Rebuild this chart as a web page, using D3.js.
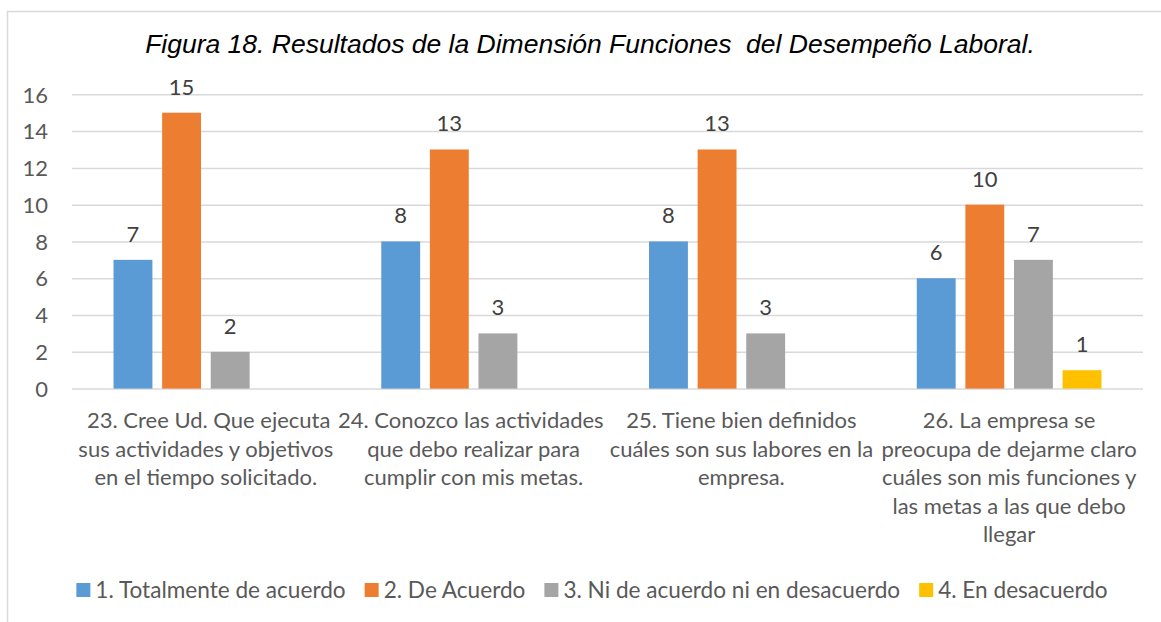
<!DOCTYPE html>
<html>
<head>
<meta charset="utf-8">
<script src="https://cdn.jsdelivr.net/npm/d3@7"></script>
<style>
  html, body { margin: 0; padding: 0; background: #fff; }
  svg text { white-space: pre; }
</style>
</head>
<body>
<svg id="chart" width="1161" height="622"></svg>
<script>
// ---- data ----
const title = "Figura 18. Resultados de la Dimensión Funciones  del Desempeño Laboral.";
const categories = [
  " 23. Cree Ud. Que ejecuta sus actividades y objetivos en el tiempo solicitado.",
  "24. Conozco las actividades que debo realizar para cumplir con mis metas.",
  "25. Tiene bien definidos cuáles son sus labores en la empresa.",
  "26. La empresa se preocupa de dejarme claro cuáles son mis funciones y las metas a las que debo llegar"
];
const categoryLines = [
  [" 23. Cree Ud. Que ejecuta", "sus actividades y objetivos", "en el tiempo solicitado."],
  ["24. Conozco las actividades ", "que debo realizar para", "cumplir con mis metas."],
  ["25. Tiene bien definidos", "cuáles son sus labores en la", "empresa."],
  ["26. La empresa se", "preocupa de dejarme claro", "cuáles son mis funciones y", "las metas a las que debo", "llegar"]
];
const seriesNames = ["1. Totalmente de acuerdo", "2. De Acuerdo", "3. Ni de acuerdo ni en desacuerdo", "4. En desacuerdo"];
const totalmenteDeAcuerdo = [7, 8, 8, 6];
const deAcuerdo = [15, 13, 13, 10];
const niDeAcuerdo = [2, 3, 3, 7];
const enDesacuerdo = [null, null, null, 1];
const seriesValues = [totalmenteDeAcuerdo, deAcuerdo, niDeAcuerdo, enDesacuerdo];
const yTicks = [0, 2, 4, 6, 8, 10, 12, 14, 16];
const colors = ["#5B9BD5", "#ED7D31", "#A5A5A5", "#FFC000"];

// ---- layout ----
const svg = d3.select("#chart");
const W = 1161, H = 622;
const plot = { left: 72, right: 1143, top: 94.3, bottom: 388.6 };
const labelFont = "Lato, 'Open Sans', sans-serif";
const labelSize = 22;
const legendSize = 22.6;
const textColor = "#595959";

// chart frame
svg.append("rect").attr("x", 7.5).attr("y", 11.5).attr("width", W + 20).attr("height", H + 20)
  .attr("fill", "#fff").attr("stroke", "#D9D9D9").attr("stroke-width", 1.5);

const x0 = d3.scaleBand().domain(d3.range(categories.length)).range([plot.left, plot.right]).paddingInner(0).paddingOuter(0);
const groupFrac = 184.7 / 267.75;
const x1 = d3.scaleBand().domain(d3.range(seriesNames.length))
  .range([0, x0.bandwidth() * groupFrac]).paddingInner(0.2).paddingOuter(0);
const groupOffset = (x0.bandwidth() - x0.bandwidth() * groupFrac) / 2;
const y = d3.scaleLinear().domain([0, 16]).range([plot.bottom, plot.top]);

// gridlines
const yAxis = d3.axisLeft(y).tickValues(yTicks).tickSize(-(plot.right - plot.left)).tickPadding(24).tickFormat(d3.format("d"));
const gy = svg.append("g").attr("transform", `translate(${plot.left},0)`).call(yAxis);
gy.select(".domain").remove();
gy.selectAll(".tick line").attr("stroke", "#D9D9D9").attr("stroke-width", 1.5);
gy.selectAll(".tick text").attr("font-family", labelFont).attr("font-size", labelSize)
  .attr("fill", textColor).attr("text-anchor", "end").attr("x", -24).attr("dy", "0.35em");

// bars
const groups = svg.append("g").selectAll("g").data(categories).join("g")
  .attr("transform", (d, i) => `translate(${x0(i) + groupOffset},0)`);
groups.each(function (c, ci) {
  const g = d3.select(this);
  seriesValues.forEach((vals, si) => {
    const v = vals[ci];
    if (v === null || v === undefined) return;
    g.append("rect")
      .attr("x", x1(si)).attr("width", x1.bandwidth())
      .attr("y", y(v)).attr("height", y(0) - y(v))
      .attr("fill", colors[si]);
    g.append("text")
      .attr("x", x1(si) + x1.bandwidth() / 2).attr("y", y(v) - 18)
      .attr("text-anchor", "middle").attr("font-family", labelFont).attr("font-size", labelSize)
      .attr("fill", "#404040").text(v);
  });
});

// category labels
const catG = svg.append("g");
categoryLines.forEach((lines, ci) => {
  const cx = x0(ci) + x0.bandwidth() / 2;
  lines.forEach((ln, li) => {
    catG.append("text").attr("x", cx).attr("y", 428 + li * 28.5)
      .attr("text-anchor", "middle").attr("font-family", labelFont).attr("font-size", labelSize)
      .attr("fill", textColor).text(ln);
  });
});

// title
svg.append("text").attr("x", 590).attr("y", 53).attr("text-anchor", "middle")
  .attr("font-family", "'Liberation Sans', Arial, sans-serif").attr("font-style", "italic")
  .attr("font-size", 26.5).attr("fill", "#000").text(title);

// legend
const sq = 14, gapSqText = 5, gapItems = 19;
const leg = svg.append("g");
const items = seriesNames.map((name, i) => {
  const g = leg.append("g");
  g.append("rect").attr("x", 0).attr("y", -sq / 2).attr("width", sq).attr("height", sq).attr("fill", colors[i]);
  const t = g.append("text").attr("x", sq + gapSqText).attr("y", 0).attr("dy", "0.35em")
    .attr("font-family", labelFont).attr("font-size", legendSize).attr("fill", textColor).text(name);
  return { g, w: sq + gapSqText + t.node().getComputedTextLength() };
});
const totalW = d3.sum(items, d => d.w) + gapItems * (items.length - 1);
let lx = 592 - totalW / 2;
items.forEach(it => { it.g.attr("transform", `translate(${lx},590)`); lx += it.w + gapItems; });
</script>
</body>
</html>
